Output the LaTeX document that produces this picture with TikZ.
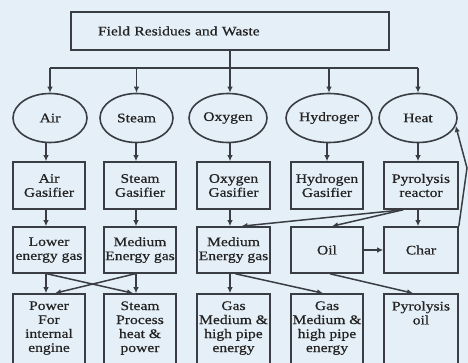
\documentclass[tikz,border=0pt]{standalone}
\usepackage{fontspec}
\setmainfont[FakeStretch=1.2,FakeBold=0.6]{Liberation Serif}
\usetikzlibrary{arrows.meta,shapes.geometric,calc}
\definecolor{bg}{RGB}{229,239,247}
\definecolor{lc}{RGB}{58,62,68}
\definecolor{tc}{RGB}{35,35,35}
\newcommand\dfont{\fontsize{13}{14}\selectfont}
\begin{document}
\begin{tikzpicture}[x=1pt,y=-1pt,
  box/.style={draw=lc, line width=1.6pt, rectangle, inner sep=0pt, align=center, text=tc, font=\dfont},
  ell/.style={draw=lc, line width=1.6pt, ellipse, inner sep=0pt, align=center, text=tc, font=\dfont, minimum height=49pt},
  gas/.style={box, minimum height=47pt},
  mid/.style={box, minimum height=46pt},
  low/.style={box, minimum height=86pt},
  lowtext/.style={anchor=north, inner sep=0pt, align=center, text=tc, font=\dfont},
  conn/.style={draw=lc, line width=1.5pt},
  arr/.style={conn, -{Latex[length=6pt,width=5.5pt]}}]
\useasboundingbox (0,0) rectangle (468,363);
\fill[bg] (0,0) rectangle (468,363);
\clip (0,0) rectangle (468,363);

% top
\node[box, minimum width=318pt, minimum height=38pt, text width=264pt, align=left] (top) at (230,31) {Field Residues and Waste};

% ellipses
\node[ell, minimum width=74pt] (e1) at (50,118) {Air};
\node[ell, minimum width=73pt] (e2) at (136.5,118) {Steam};
\node[ell, minimum width=78pt] (e3) at (228,118) {Oxygen};
\node[ell, minimum width=86pt] (e4) at (329,118) {Hydroger};
\node[ell, minimum width=78pt] (e5) at (418,118) {Heat};

% gasifiers
\node[gas, minimum width=72pt] (g1) at (49,185.5) {Air\\Gasifier};
\node[gas, minimum width=72pt] (g2) at (140,185.5) {Steam\\Gasifier};
\node[gas, minimum width=73pt] (g3) at (233.5,185.5) {Oxygen\\Gasifier};
\node[gas, minimum width=72pt] (g4) at (327,185.5) {Hydrogen\\Gasifier};
\node[gas, minimum width=74pt] (g5) at (421,185.5) {Pyrolysis\\reactor};

% row 3
\node[mid, minimum width=72pt] (m1) at (49,250) {Lower\\energy gas};
\node[mid, minimum width=72pt] (m2) at (140,250) {Medium\\Energy gas};
\node[mid, minimum width=73pt] (m3) at (233.5,250) {Medium\\Energy gas};
\node[mid, minimum width=72pt] (m4) at (327,250) {Oil};
\node[mid, minimum width=74pt] (m5) at (421,250) {Char};

% row 4
\node[low, minimum width=72pt] (p1) at (49,337) {};
\node[low, minimum width=72pt] (p2) at (140,337) {};
\node[low, minimum width=73pt] (p3) at (233.5,337) {};
\node[low, minimum width=72pt] (p4) at (327,337) {};
\node[low, minimum width=74pt] (p5) at (421,337) {};
\node[lowtext] (q1) at ([yshift=-8pt]p1.north) {Power\\For\\internal\\engine};
\node[lowtext] (q2) at ([yshift=-8pt]p2.north) {Steam\\Process\\heat \&\\power};
\node[lowtext] (q3) at ([yshift=-8pt]p3.north) {Gas\\Medium \&\\high pipe\\energy};
\node[lowtext] (q4) at ([yshift=-8pt]p4.north) {Gas\\Medium \&\\high pipe\\energy};
\node[lowtext] (q5) at ([yshift=-8pt]p5.north) {Pyrolysis\\oil};

% top to ellipses
\coordinate (bus) at (230,68);
\draw[arr] (top.south) -- (top.south |- e3.north);
\draw[conn] (e1.north |- bus) -- (e5.north |- bus);
\foreach \e in {e1,e2,e4,e5} \draw[arr] (\e.north |- bus) -- (\e.north);

% ellipses to gasifiers
\draw[arr] ([xshift=-3pt]g1.north |- e1.south) -- ([xshift=-3pt]g1.north);
\draw[arr] ([xshift=-4pt]g2.north |- e2.south) -- ([xshift=-4pt]g2.north);
\draw[arr] ([xshift=-3.5pt]g3.north |- e3.south) -- ([xshift=-3.5pt]g3.north);
\draw[arr] (g4.north |- e4.south) -- (g4.north);
\draw[arr] ([xshift=-3pt]g5.north |- e5.south) -- ([xshift=-3pt]g5.north);

% gasifiers to row 3
\draw[arr] ([xshift=-3pt]g1.south) -- ([xshift=-3pt]m1.north);
\draw[arr] ([xshift=-4pt]g2.south) -- ([xshift=-4pt]m2.north);
\draw[arr] ([xshift=-3.5pt]g3.south) -- ([xshift=-3.5pt]m3.north);
\draw[arr] ([xshift=-3pt]g5.south) -- ([xshift=-3pt]m5.north);
\coordinate (rs) at ([xshift=-18pt]g5.south);
\draw[arr] (rs) -- ([xshift=8pt]m3.north);
\draw[arr] (rs) -- ([xshift=5pt]m4.north);
\draw[arr] (m4.east) -- (m5.west);
\coordinate (fb) at (467,168);
\draw[arr] (m5.north east) -- (fb) -- (e5.-12);

% row 3 to row 4
\draw[arr] ([xshift=-3pt]m1.south) -- ([xshift=-3pt]p1.north);
\draw[arr] ([xshift=-2pt]m1.south) -- ([xshift=-7pt]p2.north);
\draw[arr] ([xshift=-4pt]m2.south) -- ([xshift=-4pt]p2.north);
\draw[arr] ([xshift=-5pt]m2.south) -- ([xshift=6pt]p1.north);
\draw[arr] ([xshift=-3.5pt]m3.south) -- ([xshift=-3.5pt]p3.north);
\draw[arr] ([xshift=2pt]m3.south) -- ([xshift=-4pt]p4.north);
\draw[arr] ([xshift=3pt]m4.south) -- ([xshift=-8pt]p5.north);
\end{tikzpicture}
\end{document}
